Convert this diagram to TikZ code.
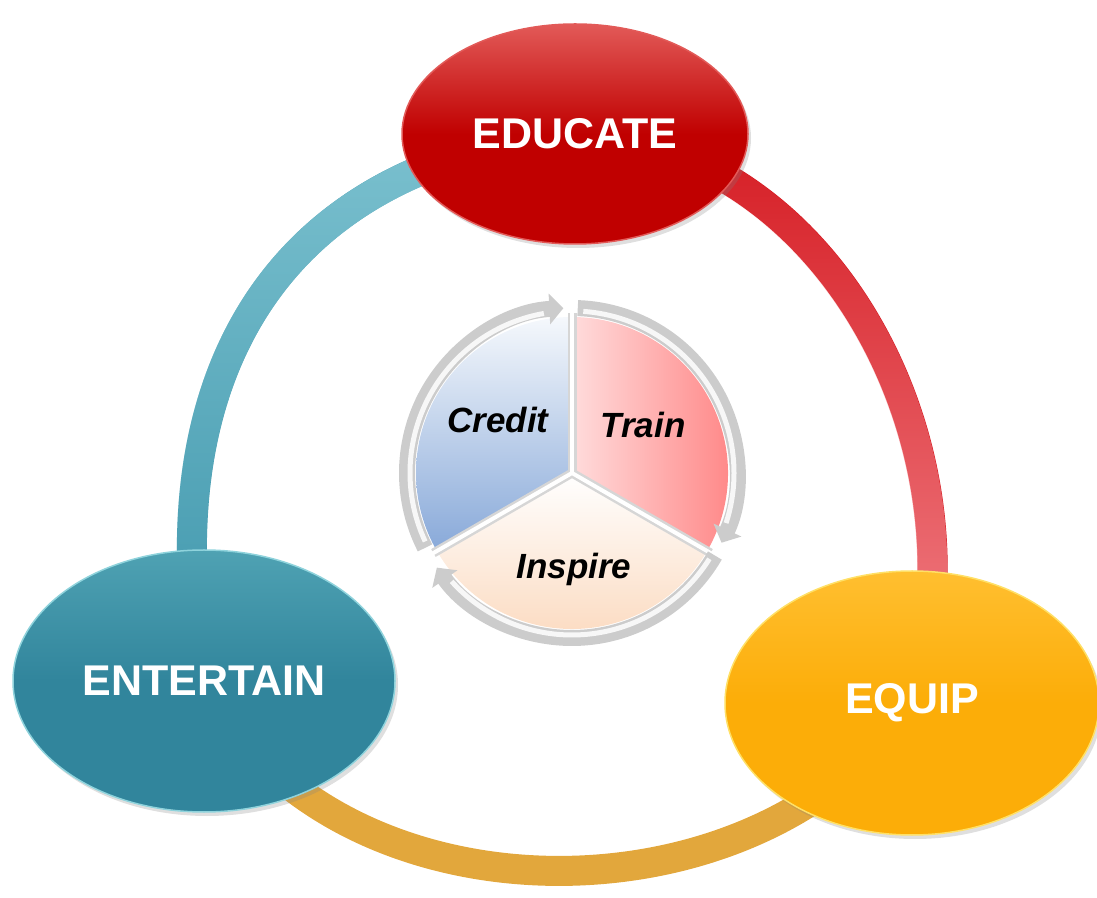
\documentclass[tikz,border=0pt]{standalone}
\usepackage{fontspec}
\newfontfamily\labelfont{Liberation Sans}
\usetikzlibrary{shapes.geometric,arrows.meta,backgrounds,fadings,shadows}

\definecolor{eduRed}{HTML}{C00000}
\definecolor{eduLight}{HTML}{E25A58}
\definecolor{entTeal}{HTML}{31859C}
\definecolor{entLight}{HTML}{4FA2B3}
\definecolor{entRim}{HTML}{8FD3DC}
\definecolor{equGold}{HTML}{FCAD08}
\definecolor{equLight}{HTML}{FFBF30}
\definecolor{equRim}{HTML}{FFE066}
\definecolor{ringTeal}{HTML}{3D95AB}
\definecolor{ringTealLight}{HTML}{7DC2D0}
\definecolor{ringRed}{HTML}{D51A21}
\definecolor{ringPink}{HTML}{F3868C}
\definecolor{ringGold}{HTML}{E2A73C}
\definecolor{creditTop}{HTML}{F5F8FC}
\definecolor{creditBot}{HTML}{88A9D9}
\definecolor{trainLeft}{HTML}{FFDCDC}
\definecolor{trainRight}{HTML}{FF7E7E}
\definecolor{inspireBot}{HTML}{FBD8BC}
\definecolor{rimGray}{HTML}{CCCCCC}

\tikzset{
  bigoval/.style={ellipse, inner sep=0pt, text=white, line width=1.5pt,
    font=\labelfont\bfseries\fontsize{43}{50}\selectfont,
    drop shadow={shadow xshift=3pt, shadow yshift=-4pt, opacity=.25}},
  ringband/.style={line width=30pt},
  slicetext/.style={anchor=base, font=\labelfont\bfseries\itshape\fontsize{35}{40}\selectfont},
  rim/.style={line width=16pt, rimGray, -{Triangle[width=30pt,length=14pt]}},
  rimshine/.style={line width=5pt, white!94!gray},
  divider/.style={line width=9pt, black!16},
  gap/.style={line width=4pt, white}
}

\begin{document}
\begin{tikzpicture}[x=1pt,y=1pt]
\useasboundingbox (0,0) rectangle (1097,897);

% the three big ovals
\node[bigoval, minimum width=346pt, minimum height=220pt, top color=eduLight,
  bottom color=eduRed, middle color=eduRed, draw=eduLight] (edu) at (575,763) {EDUCATE};
\node[bigoval, minimum width=382pt, minimum height=262pt, top color=entLight,
  bottom color=entTeal, middle color=entTeal, draw=entRim] (ent) at (204,216) {ENTERTAIN};
\node[bigoval, minimum width=374pt, minimum height=264pt, top color=equLight,
  bottom color=equGold, middle color=equGold, draw=equRim] (equ) at (912,194) {EQUIP};

% ring behind the ovals
\begin{pgfonlayer}{background}
\draw[ringband, ringTeal] (edu.center) .. controls +(185:280) and +(100:330) .. (ent.center);
\draw[ringband, ringTealLight, path fading=south] (edu.center) .. controls +(185:280) and +(100:330) .. (ent.center);
\draw[ringband, ringRed] (edu.center) to[out=-2, in=72, looseness=1] (equ.center);
\draw[ringband, ringPink, path fading=north] (edu.center) to[out=-2, in=72, looseness=1] (equ.center);
\draw[ringband, ringGold] (ent.center) to[out=297, in=236, looseness=1] (equ.center);
\end{pgfonlayer}

% inner pie
\coordinate (pie) at (572,424);
\shade[top color=creditTop, bottom color=creditBot] (pie) -- ++(90:156) arc[start angle=90, end angle=210, radius=156] -- cycle;
\shade[left color=trainLeft, right color=trainRight] (pie) -- ++(-30:156) arc[start angle=-30, end angle=90, radius=156] -- cycle;
\shade[top color=white, bottom color=inspireBot] (pie) -- ++(210:156) arc[start angle=210, end angle=330, radius=156] -- cycle;

\draw[divider] (pie) -- ++(90:160);
\draw[divider] (pie) -- ++(210:160);
\draw[divider] (pie) -- ++(330:160);
\draw[gap] (pie) -- ++(90:174);
\draw[gap] (pie) -- ++(210:174);
\draw[gap] (pie) -- ++(330:174);

\draw[rim] ([shift={(207:165)}]pie) arc[start angle=207, end angle=93, radius=165];
\draw[rim] ([shift={(88:165)}]pie) arc[start angle=88, end angle=-25, radius=165];
\draw[rim] ([shift={(-30:165)}]pie) arc[start angle=-30, end angle=-145, radius=165];
\draw[rimshine] ([shift={(205:162)}]pie) arc[start angle=205, end angle=100, radius=162];
\draw[rimshine] ([shift={(86:162)}]pie) arc[start angle=86, end angle=-18, radius=162];
\draw[rimshine] ([shift={(-32:162)}]pie) arc[start angle=-32, end angle=-138, radius=162];

\node[slicetext] (credit) at (498,464) {Credit};
\node[slicetext] (train) at (643,459) {Train};
\node[slicetext] (inspire) at (574,318) {Inspire};
\end{tikzpicture}
\end{document}
